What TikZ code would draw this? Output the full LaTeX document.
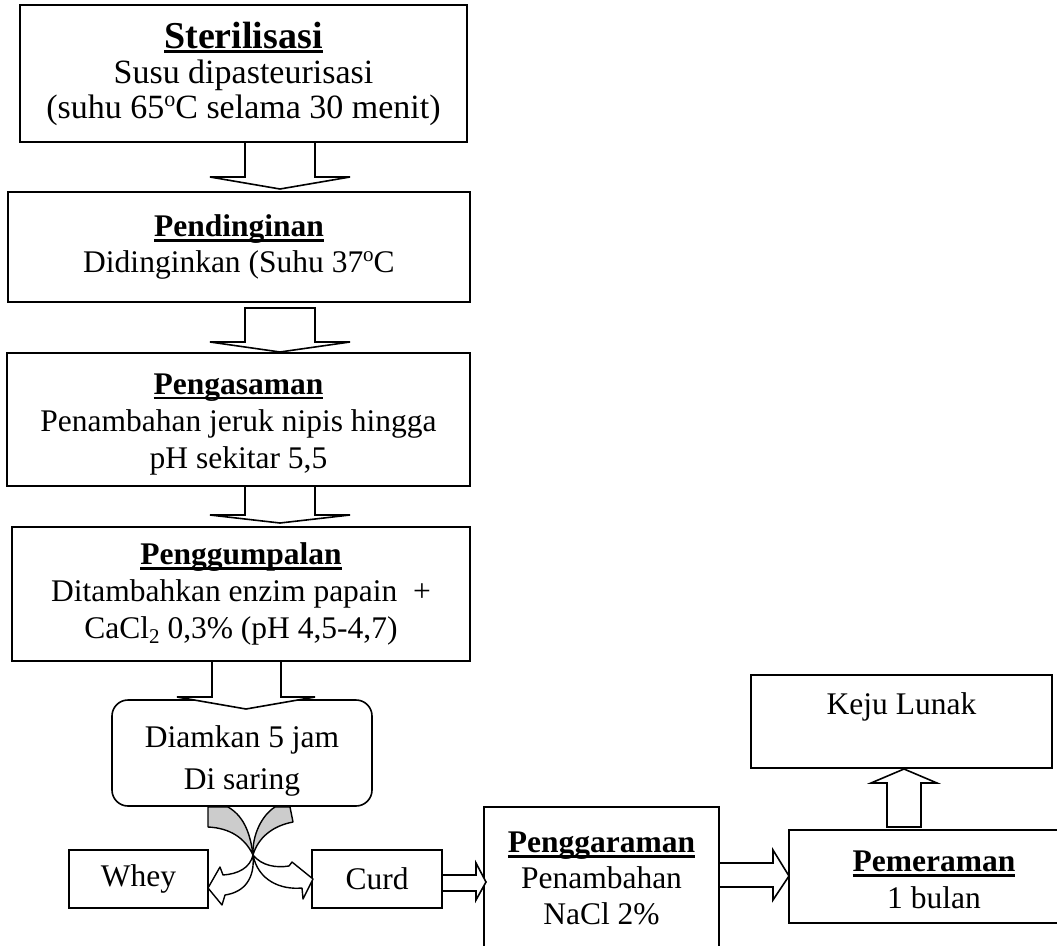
\documentclass[tikz,border=0pt]{standalone}
\usepackage{fontspec}
\setmainfont{Liberation Serif}
\definecolor{bandgrey}{RGB}{204,204,204}
\newsavebox\ulbox
\newcommand\ultitle[1]{\sbox\ulbox{\bfseries #1}\rlap{\rule[-5pt]{\wd\ulbox}{2.6pt}}\usebox\ulbox}
% superscript / subscript in Word proportions: #1 = size, #2 = shift
\newcommand\wsup[3]{\raisebox{#2pt}{\fontsize{#1}{#1}\selectfont #3}}
\begin{document}
\begin{tikzpicture}[x=1pt,y=-1pt,
  font=\fontsize{31.5}{36}\selectfont,
  box/.style={draw, line width=1.6pt, inner sep=0pt, align=center},
  blk/.style={draw, fill=white, line width=1.6pt, line join=miter},
  band/.style={draw, line width=1.4pt, line join=round},
]
\useasboundingbox (0,0) rectangle (1057,945);
\clip (0,0) rectangle (1057,945);

% boxes
\node[box, minimum width=447pt, minimum height=137pt, font=\fontsize{34}{35}\selectfont] (b1) at (243.5,73.5)
  {{\fontsize{38}{35}\selectfont\ultitle{Sterilisasi}}\\Susu dipasteurisasi\\(suhu 65\wsup{22}{12}{o}C selama 30 menit)};
\node[box, minimum width=462pt, minimum height=110pt] (b2) at (239,247)
  {\ultitle{Pendinginan}\\Didinginkan (Suhu 37\wsup{21}{11}{o}C};
\node[box, minimum width=463pt, minimum height=133pt, font=\fontsize{31.5}{37}\selectfont] (b3) at (238.5,419.5)
  {\rule{0pt}{30pt}\ultitle{Pengasaman}\\Penambahan jeruk nipis hingga\\pH sekitar 5,5};
\node[box, minimum width=458pt, minimum height=134pt, font=\fontsize{31.5}{37}\selectfont] (b4) at (241,594)
  {\ultitle{Penggumpalan}\\Ditambahkan enzim papain \ +\\CaCl\wsup{21}{-5}{2} 0,3\% (pH 4,5-4,7)};
\node[box, rounded corners=16pt, minimum width=260pt, minimum height=106pt, font=\fontsize{31.5}{42}\selectfont] (b5) at (242,753)
  {\rule{0pt}{38pt}Diamkan 5 jam\\Di saring};
\node[box, minimum width=139pt, minimum height=58pt] (whey) at (138.5,879) {Whey};
\node[box, minimum width=130pt, minimum height=58pt] (curd) at (377,879) {Curd};
\node[box, minimum width=235pt, minimum height=143pt] (pgr) at (601.5,878.5)
  {\ultitle{Penggaraman}\\Penambahan\\NaCl 2\%};
\node[box, minimum width=290pt, minimum height=93pt, font=\fontsize{31.5}{37}\selectfont] (pem) at (934,876.5)
  {\rule{0pt}{28pt}\ultitle{Pemeraman}\\1 bulan};
\node[box, minimum width=301pt, minimum height=93pt] (keju) at (901.5,721.5)
  {Keju Lunak\\\mbox{}};

% block arrows (down)
\draw[blk] (245,143) -- (245,177) -- (210,177) -- (280,189) -- (350,177) -- (315,177) -- (315,143);
\draw[blk] (245,308) -- (245,342) -- (210,342) -- (280,352) -- (350,342) -- (315,342) -- (315,308) -- cycle;
\draw[blk] (245,487) -- (245,515) -- (210,515) -- (280,523) -- (350,515) -- (315,515) -- (315,487);
\draw[blk] (212,662) -- (212,697) -- (177,697) -- (246,709) -- (315,697) -- (281,697) -- (281,662);

% block arrows (right / up)
\draw[blk] (443,875) -- (476,875) -- (476,863) -- (486,882) -- (476,900) -- (476,891) -- (443,891);
\draw[blk] (720,863) -- (773,863) -- (773,850) -- (789,876) -- (773,900) -- (773,887) -- (720,887);
\draw[blk] (887,827) -- (887,783) -- (871,783) -- (904,769) -- (937,783) -- (921,783) -- (921,827) -- cycle;

% curved split arrows
\draw[band, fill=bandgrey] (208,807) -- (228,807) .. controls (242,815) and (250,830) .. (253,855)
  .. controls (245,838) and (230,828) .. (208,827) -- cycle;
\draw[band, fill=bandgrey] (275,807) -- (290,807) -- (293,822) .. controls (272,826) and (258,838) .. (253,855)
  .. controls (252,835) and (262,815) .. (275,807) -- cycle;
\draw[band, fill=white] (253,855) .. controls (262,866) and (276,868) .. (289,866) -- (292,862) -- (313,879)
  -- (303,899) -- (302,888) .. controls (280,890) and (258,880) .. (253,855) -- cycle;
\draw[band, fill=white] (253,855) .. controls (250,868) and (238,874) .. (223,875) -- (220,867) -- (208,888)
  -- (222,905) -- (225,895) .. controls (245,892) and (255,878) .. (253,855) -- cycle;
\end{tikzpicture}
\end{document}
